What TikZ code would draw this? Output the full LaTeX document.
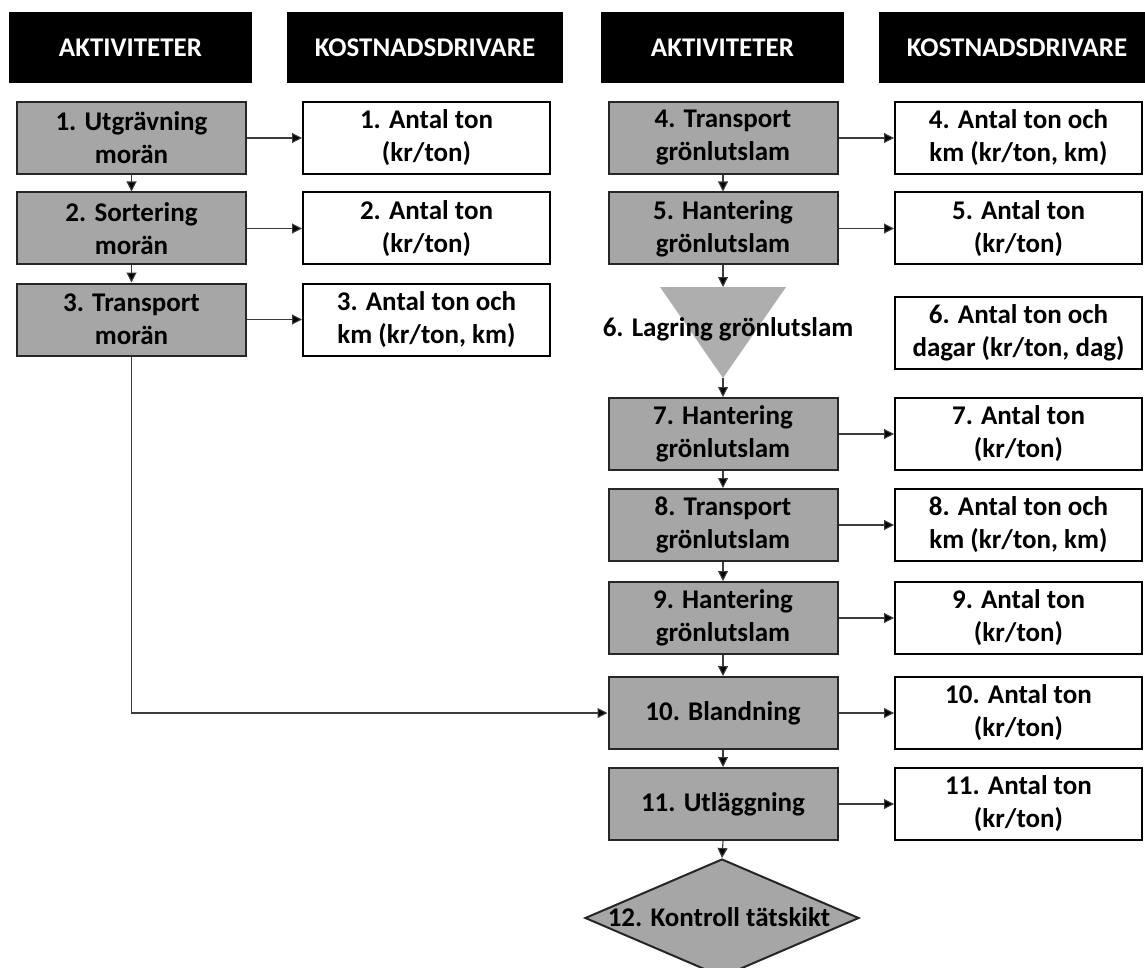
\documentclass[tikz,border=0pt]{standalone}
\usepackage{fontspec}
\setmainfont{Carlito}
\usetikzlibrary{arrows.meta,shapes.geometric}

\definecolor{boxgray}{RGB}{166,166,166}
\definecolor{trigray}{RGB}{174,174,174}
\definecolor{edgecol}{RGB}{38,38,38}
\definecolor{wirecol}{RGB}{60,60,60}

\tikzset{
  headbox/.style={fill=black, text=white, minimum height=71pt, inner sep=0pt,
    font=\fontsize{27}{33}\selectfont\bfseries},
  actbox/.style={draw=edgecol, line width=2pt, fill=boxgray, minimum width=229pt,
    minimum height=72pt, inner sep=0pt, align=center,
    font=\fontsize{27}{33}\selectfont\bfseries},
  costbox/.style={draw=black, line width=2pt, fill=white, minimum width=247pt,
    minimum height=72pt, inner sep=0pt, align=center,
    font=\fontsize{27}{33}\selectfont\bfseries},
  plainlabel/.style={inner sep=0pt, font=\fontsize{27}{33}\selectfont\bfseries},
  flow/.style={draw=wirecol, line width=1.1pt,
    -{Triangle[length=10pt,width=10pt,fill=black]}}
}

\begin{document}
\begin{tikzpicture}[x=1pt,y=-1pt]
\useasboundingbox (0,0) rectangle (1145,968);
\clip (0,0) rectangle (1145,968);

% column headers
\node[headbox, minimum width=243pt] (hA1) at (130.5,47.5) {AKTIVITETER};
\node[headbox, minimum width=276pt] (hK1) at (425,47.5) {KOSTNADSDRIVARE};
\node[headbox, minimum width=243pt] (hA2) at (722.5,47.5) {AKTIVITETER};
\node[headbox, minimum width=276pt] (hK2) at (1017,47.5) {KOSTNADSDRIVARE};

% left chain: activities
\node[actbox] (a1) at (131.5,138) {1. Utgrävning\\morän};
\node[actbox] (a2) at (131.5,228.5) {2. Sortering\\morän};
\node[actbox] (a3) at (131.5,319.5) {3. Transport\\morän};

% left chain: cost drivers
\node[costbox] (c1) at (426.5,138) {1. Antal ton\\(kr/ton)};
\node[costbox] (c2) at (426.5,228.5) {2. Antal ton\\(kr/ton)};
\node[costbox] (c3) at (426.5,319.5) {3. Antal ton och\\km (kr/ton, km)};

% right chain: activities
\node[actbox] (a4) at (723,138) {4. Transport\\grönlutslam};
\node[actbox] (a5) at (723,228.5) {5. Hantering\\grönlutslam};

% storage: inverted triangle
\coordinate (t6top) at (723,287);
\coordinate (t6tip) at (723,378);
\fill[trigray] (660,287) -- (786,287) -- (t6tip) -- cycle;
\node[plainlabel] (a6) at (728,329) {6. Lagring grönlutslam};

\node[actbox] (a7) at (723,434) {7. Hantering\\grönlutslam};
\node[actbox] (a8) at (723,525) {8. Transport\\grönlutslam};
\node[actbox] (a9) at (723,618) {9. Hantering\\grönlutslam};
\node[actbox] (a10) at (723,713) {10. Blandning};
\node[actbox] (a11) at (723,804) {11. Utläggning};

% control: diamond
\node[diamond, draw=edgecol, line width=2pt, fill=boxgray, minimum width=274pt,
      minimum height=118pt, inner sep=0pt] (d12) at (722,918) {};
\node[plainlabel] (l12) at (719,917) {12. Kontroll tätskikt};

% right chain: cost drivers
\node[costbox] (c4) at (1018.5,138) {4. Antal ton och\\km (kr/ton, km)};
\node[costbox] (c5) at (1018.5,228.5) {5. Antal ton\\(kr/ton)};
\node[costbox] (c6) at (1018.5,333) {6. Antal ton och\\dagar (kr/ton, dag)};
\node[costbox] (c7) at (1018.5,434) {7. Antal ton\\(kr/ton)};
\node[costbox] (c8) at (1018.5,525) {8. Antal ton och\\km (kr/ton, km)};
\node[costbox] (c9) at (1018.5,618) {9. Antal ton\\(kr/ton)};
\node[costbox] (c10) at (1018.5,713) {10. Antal ton\\(kr/ton)};
\node[costbox] (c11) at (1018.5,804) {11. Antal ton\\(kr/ton)};

% activity flow
\draw[flow] (a1) -- (a2);
\draw[flow] (a2) -- (a3);
\draw[flow] (a3.south) |- (a10.west);
\draw[flow] (a4) -- (a5);
\draw[flow] (a5.south) -- (t6top);
\draw[flow] (t6tip) -- (a7.north);
\draw[flow] (a7) -- (a8);
\draw[flow] (a8) -- (a9);
\draw[flow] (a9) -- (a10);
\draw[flow] (a10) -- (a11);
\draw[flow] (a11.south) -- (d12.north);

% activity to cost driver
\foreach \i in {1,2,3,4,5,7,8,9,10,11}{
  \draw[flow] (a\i.east) -- (c\i.west);
}
\end{tikzpicture}
\end{document}
